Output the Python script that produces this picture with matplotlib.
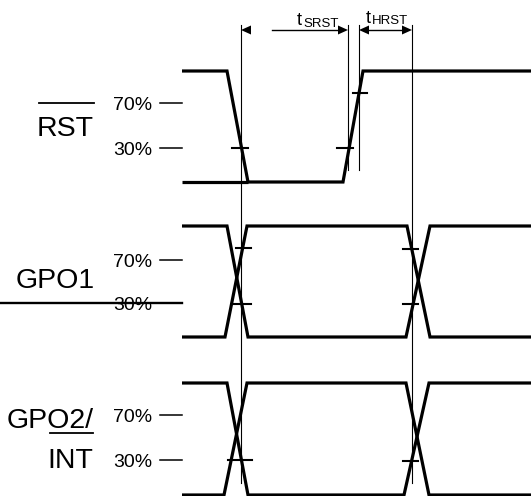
import matplotlib
matplotlib.use('Agg')
import matplotlib.pyplot as plt

# canvas is laid out in pixel units (531 x 496, y grows downward)
W, H = 531, 496

# signal names and their high / low rail levels
signals = ['RST', 'GPO1', 'GPO2/INT']
high_y = [71, 226, 383]
low_y = [182, 337, 495]
x_start, x_end = 182, 531

# waveform corner times (x) for each trace of each signal
rst_x = [x_start, 227, 248, 343, 363, x_end]
rst_lvl = ['H', 'H', 'L', 'L', 'H', 'H']
rst_low_x = [x_start, 248]

gpo1_a_x = [x_start, 227, 248, 406, 430, x_end]
gpo1_a_lvl = ['H', 'H', 'L', 'L', 'H', 'H']
gpo1_b_x = [x_start, 225, 247, 407, 430, x_end]
gpo1_b_lvl = ['L', 'L', 'H', 'H', 'L', 'L']

gpo2_a_x = [x_start, 227, 248, 404, 429, x_end]
gpo2_a_lvl = ['H', 'H', 'L', 'L', 'H', 'H']
gpo2_b_x = [x_start, 224, 247, 406, 429, x_end]
gpo2_b_lvl = ['L', 'L', 'H', 'H', 'L', 'L']

# threshold labels (70% / 30%) next to each signal
pct_labels = ['70%', '30%']
pct_y = [[103, 148], [260, 303], [415, 460]]

# small crossing ticks on the edges: (x0, x1, y)
edge_ticks = [
    (232, 248, 148), (337, 353, 148), (353, 367, 93),
    (236, 251, 248), (232, 251, 304), (403, 418, 249), (403, 418, 304),
    (228, 252, 460), (403, 418, 461),
]

# vertical timing reference lines
ref_x = [241, 348, 359, 412]
ref_top = [25, 25, 25, 25]
ref_bottom = [483, 170, 170, 483]

# timing parameters: (name, left ref, right ref, shaft start)
timings = [('SRST', 0, 1, 272), ('HRST', 2, 3, None)]
arrow_y = 30

FONT = ['Liberation Sans', 'DejaVu Sans']

fig = plt.figure(figsize=(W / 100, H / 100), dpi=100)
ax = fig.add_axes([0, 0, 1, 1])
ax.set_xlim(0, W)
ax.set_ylim(H, 0)
ax.axis('off')


def level(i, tag):
    return high_y[i] if tag == 'H' else low_y[i]


sig_lw = 2.3
traces = [
    (0, rst_x, rst_lvl), (0, rst_low_x, ['L', 'L']),
    (1, gpo1_a_x, gpo1_a_lvl), (1, gpo1_b_x, gpo1_b_lvl),
    (2, gpo2_a_x, gpo2_a_lvl), (2, gpo2_b_x, gpo2_b_lvl),
]
for i, xs, lv in traces:
    ax.plot(xs, [level(i, t) for t in lv], color='black', lw=sig_lw,
            solid_joinstyle='miter', solid_capstyle='butt')

for x0, x1, y in edge_ticks:
    ax.plot([x0, x1], [y, y], color='black', lw=1.5)

for x, t, b in zip(ref_x, ref_top, ref_bottom):
    ax.plot([x, x], [t, b], color='black', lw=0.8)

# arrows between reference lines
head_len, head_half = 10, 4.5
for name, li, ri, shaft0 in timings:
    xl, xr = ref_x[li], ref_x[ri]
    s0 = xl + head_len if shaft0 is None else shaft0
    ax.plot([s0, xr - head_len], [arrow_y, arrow_y], color='black', lw=1.0)
    ax.fill([xl, xl + head_len, xl + head_len],
            [arrow_y, arrow_y - head_half, arrow_y + head_half], color='black', lw=0)
    ax.fill([xr, xr - head_len, xr - head_len],
            [arrow_y, arrow_y - head_half, arrow_y + head_half], color='black', lw=0)

ax.text(297, 25, 't', fontsize=13, family=FONT, va='baseline')
ax.text(303, 27, timings[0][0], fontsize=9.5, family=FONT, va='baseline')
ax.text(366, 23, 't', fontsize=13, family=FONT, va='baseline')
ax.text(372, 24, timings[1][0], fontsize=9.5, family=FONT, va='baseline')

# signal names
big = 20.5
ax.text(94, 136, 'RST', fontsize=big, family=FONT, ha='right', va='baseline')
ax.plot([39, 94], [103, 103], color='black', lw=1.3)
ax.text(95, 288, 'GPO1', fontsize=big, family=FONT, ha='right', va='baseline')
ax.text(94, 428, 'GPO2/', fontsize=big, family=FONT, ha='right', va='baseline')
ax.plot([50, 93], [433, 433], color='black', lw=1.3)
ax.text(93, 468, 'INT', fontsize=big, family=FONT, ha='right', va='baseline')

# threshold labels with short dashes
for ys in pct_y:
    for lab, y in zip(pct_labels, ys):
        ax.text(113, y + 7, lab, fontsize=14, family=FONT, va='baseline')
        ax.plot([160, 182], [y, y], color='black', lw=1.1)

# stray line through the GPO1 30% label
ax.plot([0, x_start], [pct_y[1][1], pct_y[1][1]], color='black', lw=1.7)

fig.savefig('out.png', dpi=100)
